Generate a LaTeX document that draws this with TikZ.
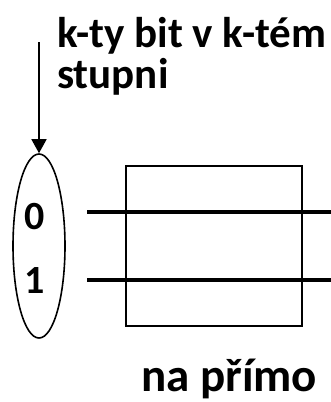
\documentclass[tikz,border=0pt]{standalone}
\usepackage{fontspec}
\setmainfont{Carlito}
\usetikzlibrary{arrows.meta,positioning,shapes.geometric}

\begin{document}
\begin{tikzpicture}[
  x=1pt, y=-1pt,
  label/.style={font=\bfseries\fontsize{43}{50}\selectfont, inner sep=0pt, anchor=base west, align=left},
  digit/.style={font=\bfseries\fontsize{40}{48}\selectfont, inner sep=0pt},
  wire/.style={line width=3.2pt},
  arrow/.style={-{Triangle[length=14pt, width=15pt]}, line width=1.6pt}
]
\useasboundingbox (0,0) rectangle (331,402);
\node[label] (title) at (57,47) {k-ty bit v k-tém};
\node[label] (title2) at (57,88) {stupni};
\node[draw, ellipse, line width=1.6pt, minimum width=52pt, minimum height=184pt, inner sep=0pt] (choice) at (39,246) {};
\node[digit] (zero) at (35,217) {0};
\node[digit] (one) at (35,281) {1};
\node[draw, line width=2.2pt, minimum width=176pt, minimum height=160pt, inner sep=0pt] (box) at (214,246) {};
\node[font=\bfseries\fontsize{47}{54}\selectfont, inner sep=0pt, anchor=base west] (mode) at (141,391) {na přímo};
\coordinate (start) at (39,42);
\coordinate (in0) at (87,212);
\coordinate (out0) at (331,212);
\coordinate (in1) at (87,280);
\coordinate (out1) at (331,280);
\draw[arrow] (start) -- (choice.north);
\draw[wire] (in0) -- (out0);
\draw[wire] (in1) -- (out1);
\end{tikzpicture}
\end{document}
